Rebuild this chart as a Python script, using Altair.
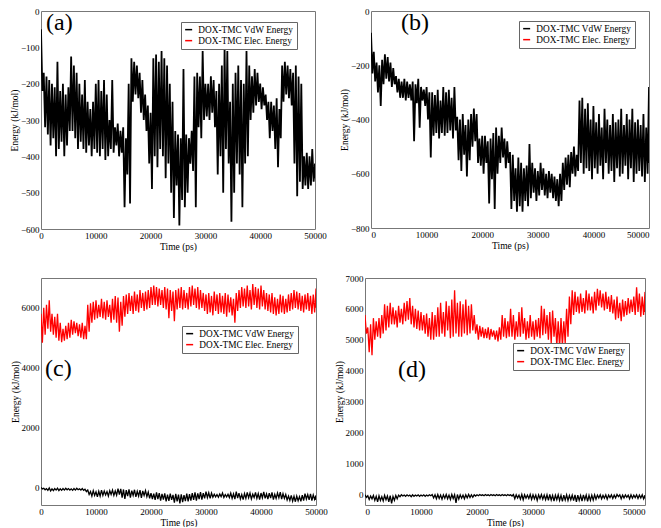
import altair as alt
import pandas as pd

T_STEP = 500
T_MAX = 50000
x_ticks = [0, 10000, 20000, 30000, 40000, 50000]
series = ["DOX-TMC VdW Energy", "DOX-TMC Elec. Energy"]
series_colors = ["#000000", "#ff0000"]
FONT = "Liberation Serif, Times New Roman, Times, serif"

# ---- panel (a): VdW, upper / lower envelope every 500 ps ----
a_vdw_hi = [-50, -170, -180, -190, -200, -210, -140, -220, -200, -230,
            -210, -125, -150, -170, -200, -230, -190, -250, -270, -250,
            -200, -190, -220, -190, -230, -300, -190, -320, -310, -330,
            -320, -350, -200, -130, -140, -150, -170, -190, -230, -260,
            -280, -130, -120, -140, -110, -130, -150, -200, -250, -330,
            -340, -350, -160, -340, -350, -330, -180, -170, -180, -110,
            -200, -200, -180, -190, -220, -200, -150, -100, -110, -250,
            -200, -170, -150, -190, -200, -110, -150, -180, -160, -170,
            -200, -210, -230, -250, -250, -260, -240, -270, -150, -140,
            -150, -160, -170, -150, -180, -200, -400, -390, -400, -380,
            -420]
a_vdw_lo = [-220, -320, -340, -370, -350, -400, -380, -360, -400, -370,
            -330, -330, -350, -380, -360, -380, -390, -370, -400, -380,
            -390, -400, -380, -410, -400, -380, -390, -370, -400, -390,
            -540, -450, -530, -250, -230, -240, -280, -300, -330, -420,
            -490, -400, -430, -380, -400, -460, -420, -500, -570, -480,
            -590, -520, -540, -500, -420, -440, -540, -320, -350, -300,
            -290, -300, -280, -320, -450, -400, -500, -380, -420, -580,
            -500, -420, -450, -540, -420, -400, -300, -280, -260, -250,
            -270, -260, -300, -350, -330, -380, -430, -350, -250, -230,
            -240, -260, -420, -510, -470, -490, -480, -490, -480, -470,
            -460]

# ---- panel (b): VdW ----
b_vdw_hi = [-80, -150, -190, -200, -180, -160, -170, -190, -210, -240,
            -250, -260, -250, -260, -270, -260, -270, -250, -280, -290,
            -280, -300, -300, -310, -290, -330, -280, -300, -290, -320,
            -280, -390, -400, -380, -420, -400, -380, -360, -380, -470,
            -460, -460, -480, -470, -450, -430, -460, -430, -470, -480,
            -520, -530, -580, -540, -560, -580, -570, -490, -560, -580,
            -590, -560, -580, -600, -590, -600, -610, -620, -600, -560,
            -540, -530, -520, -500, -530, -330, -320, -360, -340, -400,
            -350, -410, -380, -430, -360, -400, -420, -380, -410, -400,
            -360, -420, -380, -400, -360, -410, -400, -420, -380, -430,
            -280]
b_vdw_lo = [-230, -260, -300, -350, -270, -250, -260, -280, -270, -300,
            -320, -320, -330, -320, -330, -480, -340, -430, -330, -350,
            -400, -540, -460, -450, -470, -450, -460, -450, -440, -470,
            -440, -550, -590, -530, -610, -550, -500, -480, -560, -570,
            -600, -560, -710, -620, -730, -600, -560, -540, -580, -560,
            -730, -700, -740, -720, -740, -700, -720, -690, -670, -700,
            -680, -660, -680, -690, -670, -690, -700, -720, -700, -660,
            -640, -650, -600, -610, -590, -560, -600, -580, -590, -620,
            -580, -600, -570, -620, -560, -600, -590, -630, -580, -610,
            -600, -570, -620, -580, -630, -600, -590, -610, -630, -600,
            -560]

# ---- panel (c): VdW and Elec ----
c_vdw_hi = [-10, -40, -50, -30, -60, -50, -40, -60, -50, -40,
            -50, -60, -50, -40, -60, -50, -70, -100, -150, -120,
            -160, -140, -100, -130, -150, -120, -100, -130, -50, -60,
            -80, -100, -80, -120, -90, -140, -100, -130, -120, -170,
            -200, -220, -180, -200, -230, -210, -250, -220, -260, -230,
            -250, -240, -270, -220, -240, -200, -180, -210, -170, -200,
            -150, -190, -200, -240, -250, -230, -200, -250, -240, -200,
            -230, -150, -200, -250, -220, -180, -200, -240, -180, -220,
            -200, -160, -230, -200, -180, -240, -200, -170, -220, -250,
            -300, -280, -310, -300, -320, -270, -220, -250, -230, -260,
            -280]
c_vdw_lo = [-60, -90, -110, -130, -120, -100, -120, -110, -100, -90,
            -100, -110, -100, -90, -100, -110, -150, -250, -300, -280,
            -330, -300, -280, -260, -300, -250, -280, -270, -250, -350,
            -400, -300, -350, -280, -330, -300, -360, -280, -320, -380,
            -400, -430, -400, -450, -420, -480, -460, -430, -520, -480,
            -550, -500, -470, -480, -450, -430, -450, -400, -420, -380,
            -350, -380, -340, -330, -340, -320, -350, -330, -350, -380,
            -400, -370, -400, -420, -380, -360, -400, -350, -380, -420,
            -360, -380, -400, -370, -420, -380, -360, -400, -380, -430,
            -450, -470, -490, -460, -480, -450, -400, -430, -450, -410,
            -430]
c_elec_hi = [5800, 6000, 6100, 6250, 5800, 5700, 5800, 5500, 5300, 5400,
             5500, 5600, 5550, 5500, 5450, 5500, 5400, 6100, 6150, 6200,
             6250, 6100, 6300, 6200, 6250, 6100, 6300, 6400, 6350, 6200,
             6400, 6450, 6500, 6400, 6550, 6450, 6600, 6500, 6550, 6600,
             6700, 6750, 6700, 6650, 6600, 6700, 6650, 6600, 6550, 6600,
             6650, 6700, 6600, 6500, 6700, 6750, 6650, 6700, 6600, 6500,
             6450, 6500, 6400, 6550, 6450, 6500, 6400, 6500, 6450, 6350,
             6300, 6500, 6600, 6700, 6650, 6750, 6600, 6800, 6700, 6650,
             6750, 6600, 6500, 6450, 6500, 6350, 6300, 6450, 6400, 6300,
             6450, 6500, 6600, 6550, 6500, 6400, 6450, 6500, 6400, 6450,
             6650]
c_elec_lo = [4830, 5100, 5300, 5200, 5100, 5000, 4900, 4850, 4900, 4950,
             5000, 5100, 5150, 5050, 5000, 4950, 4950, 5200, 5500, 5600,
             5650, 5700, 5650, 5600, 5700, 5500, 5600, 5500, 5200, 5400,
             5700, 5800, 5900, 5800, 5900, 5850, 6000, 5900, 5950, 6000,
             6100, 6100, 6050, 6100, 6000, 5950, 5650, 5900, 5550, 5950,
             6000, 5950, 6000, 5950, 6050, 6100, 6000, 5950, 6000, 5900,
             5800, 5850, 5750, 5900, 5800, 5850, 5800, 5700, 5850, 5750,
             5500, 5900, 6000, 6050, 6000, 6050, 5950, 6100, 6000, 5950,
             6050, 5950, 5900, 5850, 5800, 5750, 5800, 5850, 5800, 5850,
             5900, 5950, 6000, 5950, 5900, 5850, 5950, 5900, 5800, 5850,
             6000]

# ---- panel (d): VdW and Elec ----
d_vdw_hi = [-20, -50, -60, -40, -70, -50, -80, -40, -60, -50,
            -70, -40, -30, -20, -30, -20, -30, -20, -30, -20,
            -30, -20, -30, -20, -10, -20, -10, -30, -20, -10,
            -30, -10, -20, -10, -20, -30, -20, -10, -20, -20,
            -20, -10, -20, -10, -20, -10, -20, -10, -20, -10,
            -20, -10, -20, -10, -20, -30, -10, -20, -30, -10,
            -20, -30, -20, -10, -30, -20, -10, -40, -30, -20,
            -40, -30, -20, -40, -30, -20, -30, -40, -20, -30,
            -40, -30, -20, -30, -20, -40, -20, -30, -20, -30,
            -10, -20, -30, -20, -30, -20, -30, -20, -30, -20,
            -30]
d_vdw_lo = [-100, -170, -150, -200, -250, -200, -220, -180, -250, -300,
            -200, -150, -80, -60, -70, -60, -80, -70, -60, -70,
            -60, -70, -60, -50, -120, -150, -140, -160, -130, -150,
            -170, -140, -280, -160, -130, -150, -120, -110, -100, -60,
            -50, -40, -50, -40, -50, -40, -50, -40, -50, -40,
            -50, -40, -60, -150, -120, -160, -180, -130, -140, -170,
            -150, -200, -140, -160, -180, -200, -190, -220, -180, -200,
            -230, -190, -200, -180, -210, -250, -200, -220, -180, -230,
            -200, -190, -160, -120, -150, -130, -160, -110, -140, -120,
            -80, -150, -120, -100, -150, -130, -110, -140, -120, -150,
            -140]
d_elec_hi = [5800, 5400, 5500, 5700, 5600, 5700, 5800, 6150, 6100, 6200,
             6050, 5950, 6100, 6000, 6200, 6250, 6350, 6100, 6000, 5950,
             5900, 5800, 5850, 5700, 5900, 5800, 6050, 6200, 5900, 6250,
             6100, 6300, 6600, 6200, 6250, 6150, 6300, 6100, 6150, 5800,
             5500, 5450, 5400, 5350, 5400, 5350, 5300, 5300, 5400, 5800,
             5700, 5600, 6000, 5800, 5600, 5900, 6050, 5700, 5600, 5800,
             5600, 5650, 5700, 6100, 6000, 5800, 5900, 5950, 5700, 5600,
             5700, 5600, 6000, 6400, 6600, 6550, 6400, 6500, 6350, 6600,
             6500, 6400, 6550, 6650, 6600, 6500, 6550, 6400, 6450, 6300,
             6400, 6200, 6300, 6250, 6350, 6300, 6400, 6700, 6500, 6400,
             6550]
d_elec_lo = [5200, 4600, 4500, 5000, 5100, 5050, 5200, 5300, 5400, 5500,
             5500, 5400, 5550, 5500, 5600, 5650, 5500, 5400, 5350, 5300,
             5300, 5200, 5100, 5000, 5000, 5100, 5100, 5200, 5100, 5300,
             5050, 5100, 5200, 5100, 5100, 5200, 5150, 5200, 5300, 5200,
             5000, 5100, 5050, 5050, 5000, 5100, 5000, 4950, 5000, 5100,
             5050, 5100, 5100, 5000, 5100, 5100, 5200, 5000, 5050, 5100,
             5000, 5100, 5050, 5150, 5200, 5000, 4900, 5100, 4800, 4750,
             4800, 4900, 5100, 5500, 5800, 5900, 5850, 5900, 5850, 5950,
             5950, 5850, 5950, 6100, 6050, 5950, 6000, 5900, 5850, 5650,
             5700, 5600, 5750, 5800, 5850, 5900, 5800, 5900, 5750, 5800,
             5900]


def trace(hi, lo, name):
    rows = []
    for i, (h, l) in enumerate(zip(hi, lo)):
        t = i * T_STEP
        rows.append({"t": t, "E": h, "s": name, "k": 2 * i})
        rows.append({"t": min(t + T_STEP // 2, T_MAX), "E": l, "s": name, "k": 2 * i + 1})
    return rows


def panel(rows, letter, ydom, yticks, w, h, lx, ly, tx, ty, flush, sw):
    df = pd.DataFrame(rows)
    lines = alt.Chart(df).mark_line(strokeWidth=sw, clip=True).encode(
        x=alt.X("t:Q", scale=alt.Scale(domain=[0, T_MAX], nice=False),
                axis=alt.Axis(values=x_ticks, format="d", title="Time (ps)", labelFlush=flush)),
        y=alt.Y("E:Q", scale=alt.Scale(domain=ydom, nice=False, zero=False),
                axis=alt.Axis(values=yticks, format="d", title="Energy (kJ/mol)")),
        color=alt.Color("s:N", scale=alt.Scale(domain=series, range=series_colors),
                        legend=alt.Legend(orient="none", legendX=lx, legendY=ly, title=None,
                                          symbolType="stroke", symbolSize=49,
                                          symbolStrokeWidth=1.5, labelFont=FONT,
                                          labelFontSize=9.3, labelColor="black",
                                          labelOffset=5, strokeColor="#666666",
                                          fillColor="white", padding=3, rowPadding=1,
                                          labelLimit=300)),
        detail="s:N",
        order="k:Q",
    )
    tag = alt.Chart(pd.DataFrame({"tag": [letter]})).mark_text(
        font=FONT, fontSize=24, align="left", baseline="alphabetic", color="black"
    ).encode(text="tag:N", x=alt.value(tx), y=alt.value(ty))
    return alt.layer(lines, tag).properties(width=w, height=h)


pa = panel(trace(a_vdw_hi, a_vdw_lo, series[0]), "(a)", [-600, 0],
           [-600, -500, -400, -300, -200, -100, 0], 274, 218, 140, 11, 5, 19, False, 1.8)
pb = panel(trace(b_vdw_hi, b_vdw_lo, series[0]), "(b)", [-800, 0],
           [-800, -600, -400, -200, 0], 278, 217, 148, 10, 30, 19, True, 1.8)
pc = panel(trace(c_vdw_hi, c_vdw_lo, series[0]) + trace(c_elec_hi, c_elec_lo, series[1]),
           "(c)", [-600, 7000], [0, 2000, 4000, 6000], 275, 227, 141, 48, 4, 98, False, 1.3)
pd_ = panel(trace(d_vdw_hi, d_vdw_lo, series[0]) + trace(d_elec_hi, d_elec_lo, series[1]),
            "(d)", [-350, 7000], [0, 1000, 2000, 3000, 4000, 5000, 6000, 7000],
            280, 227, 148, 65, 33, 99, True, 1.3)


def indep(c):
    return c.resolve_scale(x="independent", y="independent", color="independent").resolve_legend(
        color="independent").resolve_axis(x="independent", y="independent")


row1 = indep(alt.hconcat(pa, pb, spacing=11))
row2 = indep(alt.hconcat(pc, pd_, spacing=5))
chart = indep(alt.vconcat(row1, row2, spacing=22)).properties(
    padding={"left": 0, "top": -2, "right": 0, "bottom": 0}
).configure_axis(
    labelFont=FONT, titleFont=FONT, labelFontSize=9, titleFontSize=9.5,
    titleFontWeight="normal", labelColor="black", titleColor="black",
    ticks=False, domain=False, grid=False, labelPadding=2,
).configure_axisY(titlePadding=1).configure_axisX(titlePadding=1, labelPadding=2).configure_view(
    stroke="#777777", strokeWidth=1
).configure_legend(labelFont=FONT)

chart.save("out.html", embed_options={"renderer": "svg", "actions": False})
